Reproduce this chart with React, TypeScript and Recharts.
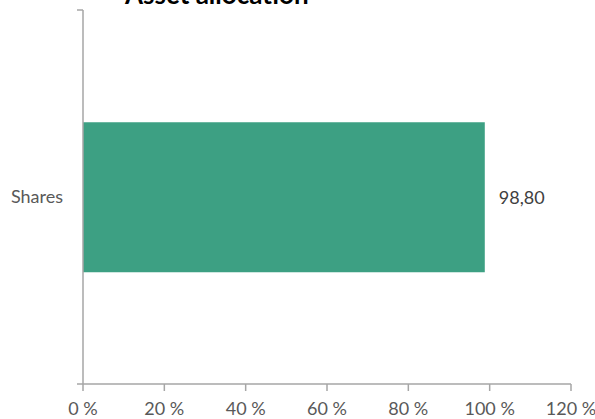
import { BarChart, Bar, XAxis, YAxis, LabelList, Customized } from "recharts";

const categories = ["Shares"];
const values = [98.8];
const xTicks = [0, 20, 40, 60, 80, 100, 120];
const title = "Asset allocation";

const data = categories.map((name, i) => ({ name, value: values[i] }));

const W = 595;
const H = 419;
const M = { top: 10, right: 24, bottom: 0, left: 0 };
const X_H = 35;
const AXIS = "#a6a6a6";
const TEXT = "#595959";
const FONT = "Lato, 'Open Sans', sans-serif";

const Decor = () => (
  <g>
    <text x={125} y={4} fontSize={26} fontWeight={700} fill="#000" fontFamily={FONT}>
      {title}
    </text>
    <line x1={77} y1={M.top} x2={83} y2={M.top} stroke={AXIS} strokeWidth={1.5} />
    <line x1={77} y1={H - X_H} x2={83} y2={H - X_H} stroke={AXIS} strokeWidth={1.5} />
  </g>
);

export default function App() {
  return (
    <div style={{ position: "absolute", left: 0, top: 0, width: W, height: H, background: "#fff" }}>
      <BarChart
        width={W}
        height={H}
        data={data}
        layout="vertical"
        margin={M}
        barCategoryGap="30%"
        style={{ fontFamily: FONT }}
      >
        <XAxis
          type="number"
          domain={[0, 120]}
          ticks={xTicks}
          tickFormatter={(v) => `${v} %`}
          height={X_H}
          stroke={AXIS}
          strokeWidth={1.5}
          tickSize={7}
          tickMargin={11}
          tick={{ fill: TEXT, fontSize: 18 }}
          interval={0}
        />
        <YAxis
          type="category"
          dataKey="name"
          width={83}
          stroke={AXIS}
          strokeWidth={1.5}
          tickLine={false}
          tickSize={0}
          tickMargin={20}
          tick={{ fill: TEXT, fontSize: 18 }}
        />
        <Bar dataKey="value" fill="#3DA083" isAnimationActive={false}>
          <LabelList
            dataKey="value"
            position="right"
            offset={14}
            formatter={(v: number) => Number(v).toFixed(2).replace(".", ",")}
            style={{ fill: "#404040", fontSize: 18, fontFamily: FONT }}
          />
        </Bar>
        <Customized component={Decor} />
      </BarChart>
    </div>
  );
}
